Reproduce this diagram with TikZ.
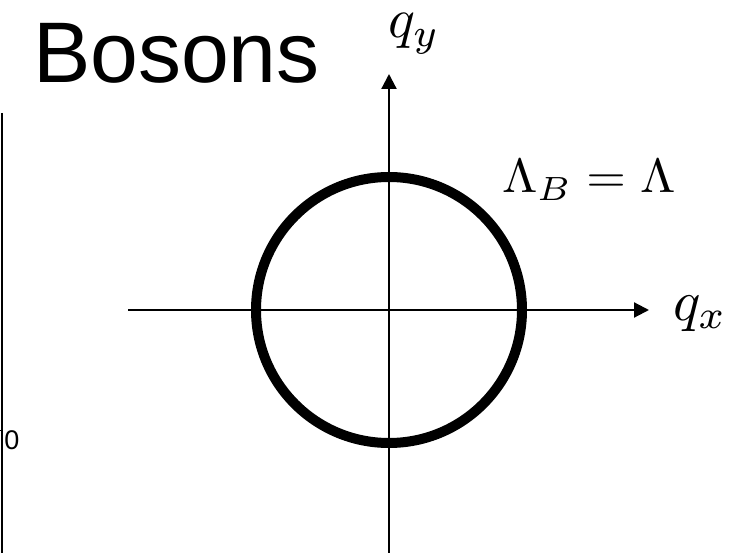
\documentclass[tikz,border=0pt]{standalone}
\usepackage{fontspec}
\setsansfont{Liberation Sans}
\usetikzlibrary{arrows.meta}
\begin{document}
\begin{tikzpicture}[x=1pt,y=-1pt,
  axis/.style={line width=2.2pt,-{Triangle[length=15pt,width=15pt]}},
  lbl/.style={inner sep=0pt,outer sep=0pt}]
\useasboundingbox (0,0) rectangle (755,553);
% axes
\coordinate (O) at (389,310);
\coordinate (xs) at (128,310);
\coordinate (xe) at (649,310);
\coordinate (ys) at (389,553);
\coordinate (ye) at (389,74);
\draw[axis] (xs) -- (xe);
\draw[axis] (ys) -- (ye);
% circle
\draw[line width=10pt] (O) circle (133);
% labels
\node[lbl,anchor=base west,font={\sffamily\fontsize{86}{86}\selectfont}] (title) at (33,83) {Bosons};
\node[lbl,anchor=base west,scale=5.6] (qy) at (388,38) {$q_y$};
\node[lbl,anchor=base west,scale=5.7] (qx) at (673,320) {$q_x$};
\node[lbl,anchor=base west,scale=4.8,xscale=1.06] (lam) at (502,193) {$\Lambda_B = \Lambda$};
% left axis fragment
\coordinate (ls) at (1.7,113);
\coordinate (le) at (1.7,553);
\draw[line width=2pt] (ls) -- (le);
\coordinate (ts) at (0,430);
\draw[line width=1pt] (ts) -- (le |- ts);
\node[lbl,anchor=base west,scale=2.7,font=\sffamily] (zero) at (4.5,449) {0};
\end{tikzpicture}
\end{document}
